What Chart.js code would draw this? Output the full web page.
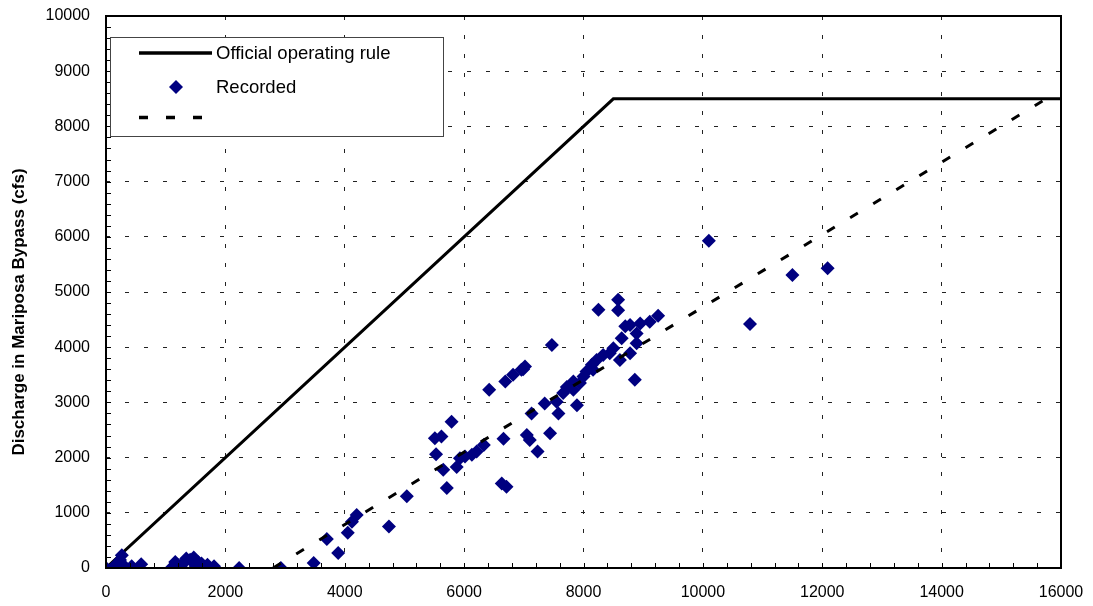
<!DOCTYPE html>
<html>
<head>
<meta charset="utf-8">
<script src="https://cdn.jsdelivr.net/npm/chart.js@4/dist/chart.umd.min.js"></script>
<style>
  html, body { margin: 0; padding: 0; background: #fff; }
  #wrap { width: 1093px; height: 606px; position: relative; }
</style>
</head>
<body>
<div id="wrap"><canvas id="c" width="1093" height="606"></canvas></div>
<script>
// Official operating rule (inflow vs. bypass discharge, cfs)
const ruleX = [0, 8500, 16000];
const ruleY = [0, 8500, 8500];

// Fitted trend of recorded flows
const trendX = [2800, 15750];
const trendY = [0, 8500];

// Recorded flows
const recordedX = [
  0, 110, 130, 195, 220, 235, 265, 200, 150, 310, 430, 590,
  1110, 1160, 1200, 1250, 1310, 1345, 1410, 1470, 1500, 1540, 1600, 1700, 1810, 2230, 2930,
  3480, 3890, 3700, 4050, 4120, 4200, 4740, 5040, 5710, 5650,
  5510, 5620, 5530, 5790, 5875, 5930, 6015, 6130, 6210, 6330, 6420, 6660, 6630, 6710,
  6690, 6820, 6960, 7020, 6990,
  7050, 7100, 7230, 7130, 7350, 7470, 7440, 7550, 7580, 7660, 7720, 7830, 7890, 7830,
  7940, 8000, 8050, 8140, 8160, 8220, 8250, 8330, 8440, 8500, 8580, 8580, 8610, 8640,
  8700, 8780, 8780, 8890, 8890, 8950, 8860, 9110, 9250,
  10100, 10790, 11500, 12090
];
const recordedY = [
  0, 0, 20, 15, 80, 145, 230, 60, 0, 30, 30, 70,
  20, 110, 60, 30, 100, 170, 150, 190, 20, 110, 80, 60, 30, 0, 0,
  90, 270, 525, 640, 840, 960, 750, 1300, 1450, 1780,
  2350, 2380, 2060, 2650, 1830, 1990, 2020, 2050, 2110, 2230, 3230, 2340, 1530, 1470,
  3380, 3500, 3590, 3650, 3600,
  2410, 2320, 2110, 2800, 2980, 4040, 2440, 3010, 2800, 3170, 3280, 3230, 2950, 3380,
  3350, 3470, 3560, 3680, 3590, 3770, 4680, 3860, 3890, 3980, 4860, 4670, 3770, 4160,
  4380, 4400, 3890, 4250, 4070, 4430, 3410, 4460, 4570,
  5930, 4420, 5310, 5430
];

const seriesNames = ['Official operating rule', 'Recorded', ''];
const yTitle = 'Discharge in Mariposa Bypass (cfs)';

const toPoints = (xs, ys) => xs.map((x, i) => ({ x: x, y: ys[i] }));

const FONT = "'Liberation Sans', Arial, sans-serif";
const NAVY = '#000080';

// Frame, inward tick marks, axis title and in-plot legend
const decorations = {
  id: 'decorations',
  afterDraw(chart) {
    const { ctx, chartArea: a, scales } = chart;
    const xs = scales.x, ys = scales.y;
    ctx.save();

    // inward tick marks
    ctx.strokeStyle = '#000';
    ctx.lineWidth = 1;
    ctx.beginPath();
    for (let v = 0; v <= 16000; v += 400) {
      const px = Math.round(xs.getPixelForValue(v)) + 0.5;
      ctx.moveTo(px, a.bottom);
      ctx.lineTo(px, a.bottom - 5);
    }
    for (let v = 0; v <= 10000; v += 200) {
      const py = Math.round(ys.getPixelForValue(v)) + 0.5;
      ctx.moveTo(a.left, py);
      ctx.lineTo(a.left + 5, py);
    }
    ctx.stroke();

    // plot frame
    ctx.lineWidth = 2;
    ctx.strokeRect(a.left, a.top, a.right - a.left, a.bottom - a.top);

    // y-axis title
    ctx.fillStyle = '#000';
    ctx.font = 'bold 17px ' + FONT;
    ctx.textAlign = 'center';
    ctx.textBaseline = 'middle';
    ctx.translate(19, 312);
    ctx.rotate(-Math.PI / 2);
    ctx.fillText(yTitle, 0, 0);
    ctx.setTransform(1, 0, 0, 1, 0, 0);

    // legend box
    ctx.fillStyle = '#fff';
    ctx.fillRect(110, 37, 334, 99);
    ctx.strokeStyle = '#444';
    ctx.lineWidth = 1;
    ctx.strokeRect(110.5, 37.5, 333, 99);

    // legend: solid rule line
    ctx.strokeStyle = '#000';
    ctx.lineWidth = 3.5;
    ctx.setLineDash([]);
    ctx.beginPath();
    ctx.moveTo(139, 53);
    ctx.lineTo(212, 53);
    ctx.stroke();

    // legend: recorded diamond
    ctx.fillStyle = NAVY;
    ctx.beginPath();
    ctx.moveTo(176, 80);
    ctx.lineTo(183, 87);
    ctx.lineTo(176, 94);
    ctx.lineTo(169, 87);
    ctx.closePath();
    ctx.fill();

    // legend: dashed trend line
    ctx.strokeStyle = '#000';
    ctx.lineWidth = 3.5;
    ctx.setLineDash([9, 18]);
    ctx.beginPath();
    ctx.moveTo(139, 117.5);
    ctx.lineTo(205, 117.5);
    ctx.stroke();
    ctx.setLineDash([]);

    ctx.fillStyle = '#000';
    ctx.font = '18.5px ' + FONT;
    ctx.textAlign = 'left';
    ctx.textBaseline = 'middle';
    ctx.fillText(seriesNames[0], 216, 54);
    ctx.fillText(seriesNames[1], 216, 88);
    if (seriesNames[2]) ctx.fillText(seriesNames[2], 216, 118);

    ctx.restore();
  }
};

new Chart(document.getElementById('c'), {
  type: 'scatter',
  data: {
    datasets: [
      {
        label: seriesNames[2],
        data: toPoints(trendX, trendY),
        showLine: true,
        borderColor: '#000',
        borderWidth: 3,
        borderDash: [9, 18],
        pointRadius: 0,
        fill: false,
        order: 0
      },
      {
        label: seriesNames[1],
        data: toPoints(recordedX, recordedY),
        pointStyle: 'rectRot',
        pointRadius: 7,
        backgroundColor: NAVY,
        borderColor: NAVY,
        borderWidth: 0,
        order: 1
      },
      {
        label: seriesNames[0],
        data: toPoints(ruleX, ruleY),
        showLine: true,
        borderColor: '#000',
        borderWidth: 3,
        pointRadius: 0,
        fill: false,
        order: 2
      }
    ]
  },
  options: {
    responsive: false,
    animation: false,
    devicePixelRatio: 1,
    layout: { padding: { left: 0, top: 16, right: 32, bottom: 0 } },
    plugins: {
      legend: { display: false },
      tooltip: { enabled: false }
    },
    scales: {
      x: {
        type: 'linear',
        min: 0,
        max: 16000,
        afterFit(scale) {
          scale.height = 38;
          scale.paddingLeft = 0;
          scale.paddingRight = 0;
        },
        ticks: {
          stepSize: 2000,
          padding: 15,
          color: '#000',
          font: { family: FONT, size: 16 },
          callback: v => String(v)
        },
        grid: {
          drawTicks: false,
          color: '#222',
          lineWidth: 1
        },
        border: { display: false, dash: [4, 15] }
      },
      y: {
        type: 'linear',
        min: 0,
        max: 10000,
        afterFit(scale) {
          scale.width = 106;
          scale.paddingTop = 0;
          scale.paddingBottom = 0;
        },
        ticks: {
          stepSize: 1000,
          padding: 16,
          color: '#000',
          font: { family: FONT, size: 16 },
          callback: v => String(v)
        },
        grid: {
          drawTicks: false,
          color: '#222',
          lineWidth: 1
        },
        border: { display: false, dash: [4, 15] }
      }
    }
  },
  plugins: [decorations]
});
</script>
</body>
</html>
